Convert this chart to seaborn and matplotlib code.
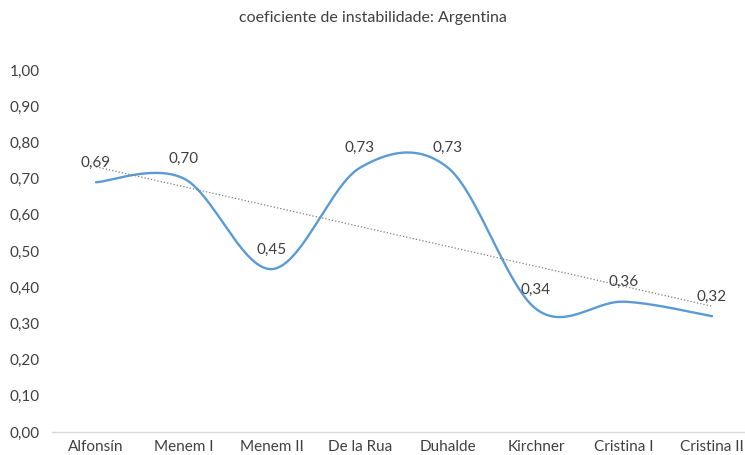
import numpy as np
import pandas as pd
import matplotlib
matplotlib.use("Agg")
import matplotlib.pyplot as plt
import seaborn as sns

governos = ["Alfonsín", "Menem I", "Menem II", "De la Rua", "Duhalde",
            "Kirchner", "Cristina I", "Cristina II"]
coeficiente = [0.69, 0.70, 0.45, 0.73, 0.73, 0.34, 0.36, 0.32]
yticks = [0.0, 0.1, 0.2, 0.3, 0.4, 0.5, 0.6, 0.7, 0.8, 0.9, 1.0]

sns.set_theme(style="white")
plt.rcParams["font.family"] = ["Lato", "DejaVu Sans"]

TEXT = "#404040"
BLUE = "#5B9BD5"


def excel_smooth(x, y, n=60):
    # bezier segments like Excel's "smoothed line"
    x = np.asarray(x, float)
    y = np.asarray(y, float)
    px = np.concatenate([[x[0]], x, [x[-1]]])
    py = np.concatenate([[y[0]], y, [y[-1]]])
    xs, ys = [], []
    t = np.linspace(0, 1, n)
    for i in range(len(x) - 1):
        p0 = np.array([px[i + 1], py[i + 1]])
        p3 = np.array([px[i + 2], py[i + 2]])
        c1 = p0 + (np.array([px[i + 2], py[i + 2]]) - np.array([px[i], py[i]])) / 6
        c2 = p3 - (np.array([px[i + 3], py[i + 3]]) - np.array([px[i + 1], py[i + 1]])) / 6
        b = ((1 - t) ** 3)[:, None] * p0 + (3 * (1 - t) ** 2 * t)[:, None] * c1 \
            + (3 * (1 - t) * t ** 2)[:, None] * c2 + (t ** 3)[:, None] * p3
        xs.extend(b[:, 0])
        ys.extend(b[:, 1])
    return np.array(xs), np.array(ys)


pos = np.arange(len(governos))
df = pd.DataFrame({"pos": pos, "coef": coeficiente})
sx, sy = excel_smooth(pos, coeficiente)
smooth = pd.DataFrame({"pos": sx, "coef": sy})

fig = plt.figure(figsize=(7.45, 4.55), dpi=100)
ax = fig.add_axes([52 / 745, 23 / 455, 704 / 745, 362 / 455])

sns.lineplot(data=smooth, x="pos", y="coef", ax=ax, color=BLUE, lw=1.7,
             sort=False, estimator=None)
sns.regplot(data=df, x="pos", y="coef", ax=ax, scatter=False, ci=None,
            line_kws={"ls": ":", "color": "#7f7f7f", "lw": 0.9})

for p, v in zip(pos, coeficiente):
    ax.annotate(f"{v:.2f}".replace(".", ","), (p, v), xytext=(0, 9),
                textcoords="offset points", ha="center", va="bottom",
                fontsize=11, color=TEXT)

ax.set_xlim(-0.5, len(governos) - 0.5)
ax.set_ylim(0, 1.0)
ax.set_xticks(pos)
ax.set_xticklabels(governos, fontsize=11, color=TEXT)
ax.set_yticks(yticks)
ax.set_yticklabels([f"{t:.2f}".replace(".", ",") for t in yticks],
                   fontsize=11, color=TEXT)
ax.tick_params(axis="x", length=0, pad=6)
ax.tick_params(axis="y", length=0, pad=9)
ax.set_xlabel("")
ax.set_ylabel("")
sns.despine(ax=ax, left=True)
ax.spines["bottom"].set_color("#d9d9d9")
ax.spines["bottom"].set_linewidth(1.0)
ax.spines["bottom"].set_clip_on(False)

fig.text(0.5, 1 - 18 / 455, "coeficiente de instabilidade: Argentina",
         ha="center", va="center", fontsize=11.5, color=TEXT)

fig.savefig("out.png", dpi=100)
